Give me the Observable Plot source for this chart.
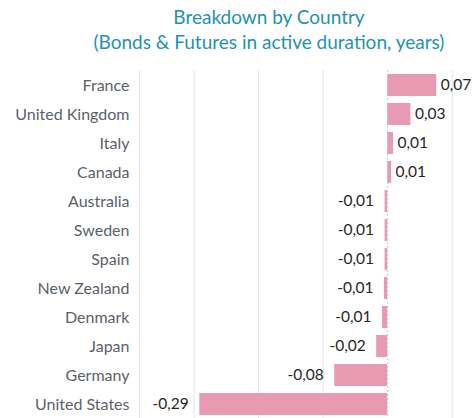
<!DOCTYPE html>
<html>
<head>
<meta charset="utf-8">
<script src="https://cdn.jsdelivr.net/npm/d3@7"></script>
<script src="https://cdn.jsdelivr.net/npm/@observablehq/plot@0.6"></script>
<style>
  html, body { margin: 0; padding: 0; background: #fff; }
  #wrap { width: 473px; height: 418px; position: relative; overflow: hidden; }
  .t { position: absolute; left: 0; width: 538px; text-align: center; color: #1e93b0; font-family: Lato, "Open Sans", sans-serif; font-size: 19px; line-height: 23px; white-space: nowrap; }
</style>
</head>
<body>
<div id="wrap">
  <div class="t" style="top:5px;">Breakdown by Country</div>
  <div class="t" style="top:30px;">(Bonds &amp; Futures in active duration, years)</div>
  <div id="chart" style="position:absolute; left:0; top:60px; line-height:0;"></div>
</div>
<script>
const countries = ["France", "United Kingdom", "Italy", "Canada", "Australia", "Sweden", "Spain", "New Zealand", "Denmark", "Japan", "Germany", "United States"];
const values = [0.076, 0.036, 0.009, 0.006, -0.004, -0.004, -0.004, -0.005, -0.008, -0.017, -0.082, -0.291];
const valueLabels = ["0,07", "0,03", "0,01", "0,01", "-0,01", "-0,01", "-0,01", "-0,01", "-0,01", "-0,02", "-0,08", "-0,29"];
const gridTicks = [-0.3, -0.2, -0.1, 0.1];

const data = countries.map((c, i) => ({country: c, value: values[i], label: valueLabels[i]}));
const xDomain = [-0.3845, 0.133];

const plot = Plot.plot({
  width: 473,
  height: 358,
  marginTop: 10,
  marginBottom: 0,
  marginLeft: 139,
  marginRight: 0,
  style: {fontFamily: "Lato, 'Open Sans', sans-serif", background: "transparent"},
  x: {domain: xDomain, axis: null},
  y: {domain: countries, paddingInner: 0.25, paddingOuter: 0.125, axis: null},
  marks: [
    Plot.ruleX(gridTicks, {stroke: "#e4e4e4", strokeWidth: 1}),
    Plot.ruleX([xDomain[0]], {stroke: "#e4e4e4", strokeWidth: 1}),
    Plot.barX(data, {x: "value", y: "country", fill: "#e79ab2"}),
    Plot.ruleX([0], {stroke: "#c8c8c8", strokeDasharray: "2,2", strokeWidth: 1}),
    Plot.text(data, {x: () => xDomain[0], y: "country", text: "country", textAnchor: "end", dx: -10, fill: "#5b5f6b", fontSize: 16}),
    Plot.text(data.filter(d => d.value >= 0), {x: "value", y: "country", text: "label", textAnchor: "start", dx: 4, fill: "#262626", fontSize: 15.5}),
    Plot.text(data.filter(d => d.value < 0), {x: "value", y: "country", text: "label", textAnchor: "end", dx: -11, fill: "#262626", fontSize: 15.5})
  ]
});
document.getElementById("chart").appendChild(plot);
</script>
</body>
</html>
